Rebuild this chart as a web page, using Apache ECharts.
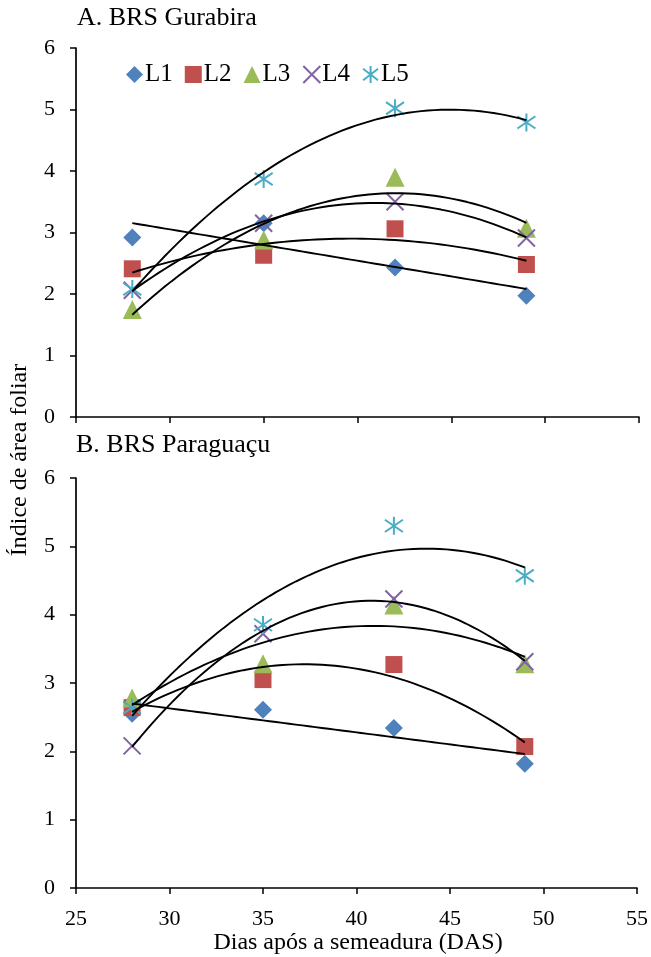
<!DOCTYPE html>
<html>
<head>
<meta charset="utf-8">
<script src="https://cdn.jsdelivr.net/npm/echarts@6/dist/echarts.min.js"></script>
<style>html,body{margin:0;padding:0;background:#fff}#c{width:651px;height:957px}</style>
</head>
<body>
<div id="c"></div>
<script>
// Data
var days = [28, 35, 42, 49];
var seriesNames = ['L1', 'L2', 'L3', 'L4', 'L5'];
// A. BRS Gurabira
var gurL1 = [2.92, 3.15, 2.43, 1.97];
var gurL2 = [2.41, 2.63, 3.06, 2.48];
var gurL3 = [1.75, 2.88, 3.90, 3.07];
var gurL4 = [2.06, 3.15, 3.50, 2.91];
var gurL5 = [2.08, 3.87, 5.02, 4.79];
// B. BRS Paraguaçu
var parL1 = [2.55, 2.61, 2.34, 1.82];
var parL2 = [2.64, 3.05, 3.27, 2.07];
var parL3 = [2.78, 3.28, 4.14, 3.28];
var parL4 = [2.08, 3.72, 4.23, 3.31];
var parL5 = [2.64, 3.85, 5.30, 4.57];
var trendDegree = [1, 2, 2, 2, 2];
var xTicks = [25, 55, 5];
var yTicks = [0, 6, 1];
var titleA = 'A. BRS Gurabira';
var titleB = 'B. BRS Paraguaçu';
var yName = 'Índice de área foliar';
var xName = 'Dias após a semeadura (DAS)';

var colors = ['#4F81BD', '#C0504D', '#9BBB59', '#8064A2', '#4BACC6'];
var FONT = 'Liberation Serif, Times New Roman, serif';

function polyfit(xs, ys, deg) {
  var n = deg + 1, A = [], b = [];
  for (var i = 0; i < n; i++) {
    A.push([]); b.push(0);
    for (var j = 0; j < n; j++) {
      var s = 0;
      for (var k = 0; k < xs.length; k++) s += Math.pow(xs[k], i + j);
      A[i].push(s);
    }
    for (var k2 = 0; k2 < xs.length; k2++) b[i] += ys[k2] * Math.pow(xs[k2], i);
  }
  for (var c = 0; c < n; c++) {
    var p = c;
    for (var r = c + 1; r < n; r++) if (Math.abs(A[r][c]) > Math.abs(A[p][c])) p = r;
    var t = A[c]; A[c] = A[p]; A[p] = t; var tb = b[c]; b[c] = b[p]; b[p] = tb;
    for (var r2 = c + 1; r2 < n; r2++) {
      var f = A[r2][c] / A[c][c];
      for (var cc = c; cc < n; cc++) A[r2][cc] -= f * A[c][cc];
      b[r2] -= f * b[c];
    }
  }
  var coef = new Array(n);
  for (var i2 = n - 1; i2 >= 0; i2--) {
    var s2 = b[i2];
    for (var j2 = i2 + 1; j2 < n; j2++) s2 -= A[i2][j2] * coef[j2];
    coef[i2] = s2 / A[i2][i2];
  }
  return coef;
}
function trendPoints(xs, ys, deg) {
  var coef = polyfit(xs, ys, deg), pts = [];
  var x0 = xs[0], x1 = xs[xs.length - 1], steps = 60;
  for (var i = 0; i <= steps; i++) {
    var x = x0 + (x1 - x0) * i / steps, y = 0;
    for (var k = 0; k < coef.length; k++) y += coef[k] * Math.pow(x, k);
    pts.push([x, y]);
  }
  return pts;
}

var symbols = [
  {symbol: 'diamond', size: 18},
  {symbol: 'rect', size: 17},
  {symbol: 'triangle', size: 19},
  {symbol: 'path://M0,0L10,10M10,0L0,10', size: 17, stroke: true},
  {symbol: 'path://M5,0L5,10M0.6,1.6L9.4,8.4M9.4,1.6L0.6,8.4', size: 18, stroke: true}
];

var panels = [
  [gurL1, gurL2, gurL3, gurL4, gurL5],
  [parL1, parL2, parL3, parL4, parL5]
];

var series = [];
panels.forEach(function (panel, gi) {
  panel.forEach(function (vals, si) {
    var sym = symbols[si];
    var itemStyle = sym.stroke
      ? {color: 'rgba(0,0,0,0)', borderColor: colors[si], borderWidth: 2, opacity: 1}
      : {color: colors[si], opacity: 1};
    series.push({
      type: 'scatter', name: seriesNames[si], xAxisIndex: gi, yAxisIndex: gi,
      symbol: sym.symbol, symbolSize: sym.size, itemStyle: itemStyle,
      data: days.map(function (d, i) { return [d, vals[i]]; }),
      z: 2, silent: true
    });
  });
  panel.forEach(function (vals, si) {
    series.push({
      type: 'line', name: 'trend' + gi + si, xAxisIndex: gi, yAxisIndex: gi,
      data: trendPoints(days, vals, trendDegree[si]),
      showSymbol: false, smooth: false, silent: true,
      lineStyle: {color: '#000', width: 1.9}, z: 3
    });
  });
});

function xAxis(gi, showLabel) {
  return {
    gridIndex: gi, type: 'value', min: xTicks[0], max: xTicks[1], interval: xTicks[2],
    axisLine: {show: true, lineStyle: {color: '#000', width: 1.7}},
    axisTick: {show: true, length: 6, inside: false, lineStyle: {color: '#000', width: 1.5}},
    axisLabel: {show: showLabel, color: '#000', fontFamily: FONT, fontSize: 22, margin: 20},
    splitLine: {show: false}
  };
}
function yAxis(gi) {
  return {
    gridIndex: gi, type: 'value', min: yTicks[0], max: yTicks[1], interval: yTicks[2],
    axisLine: {show: true, lineStyle: {color: '#000', width: 1.7}},
    axisTick: {show: true, length: 6, inside: false, lineStyle: {color: '#000', width: 1.5}},
    axisLabel: {color: '#000', fontFamily: FONT, fontSize: 22, margin: 21},
    splitLine: {show: false}
  };
}

var chart = echarts.init(document.getElementById('c'), null, {renderer: 'canvas'});
chart.setOption({
  animation: false,
  backgroundColor: '#fff',
  grid: [
    {left: 76, top: 48, width: 563, height: 369},
    {left: 76, top: 478, width: 563, height: 410}
  ],
  xAxis: [xAxis(0, false), xAxis(1, true)],
  yAxis: [yAxis(0), yAxis(1)],
  legend: {
    data: seriesNames, left: 121, top: 57, orient: 'horizontal',
    itemWidth: 17, itemHeight: 17, itemGap: 12,
    textStyle: {color: '#000', fontFamily: FONT, fontSize: 25, padding: [0, 0, 0, -3]},
    selectedMode: false
  },
  graphic: [
    {type: 'text', left: 77, top: 5, style: {text: titleA, font: '26px ' + FONT, fill: '#000'}},
    {type: 'text', left: 76, top: 432, style: {text: titleB, font: '26px ' + FONT, fill: '#000'}},
    {type: 'text', x: 20, y: 460, rotation: Math.PI / 2,
     style: {text: yName, font: '24px ' + FONT, fill: '#000', align: 'center', verticalAlign: 'middle'}},
    {type: 'text', x: 358, y: 943,
     style: {text: xName, font: '24px ' + FONT, fill: '#000', align: 'center', verticalAlign: 'middle'}}
  ],
  series: series
});
</script>
</body>
</html>
